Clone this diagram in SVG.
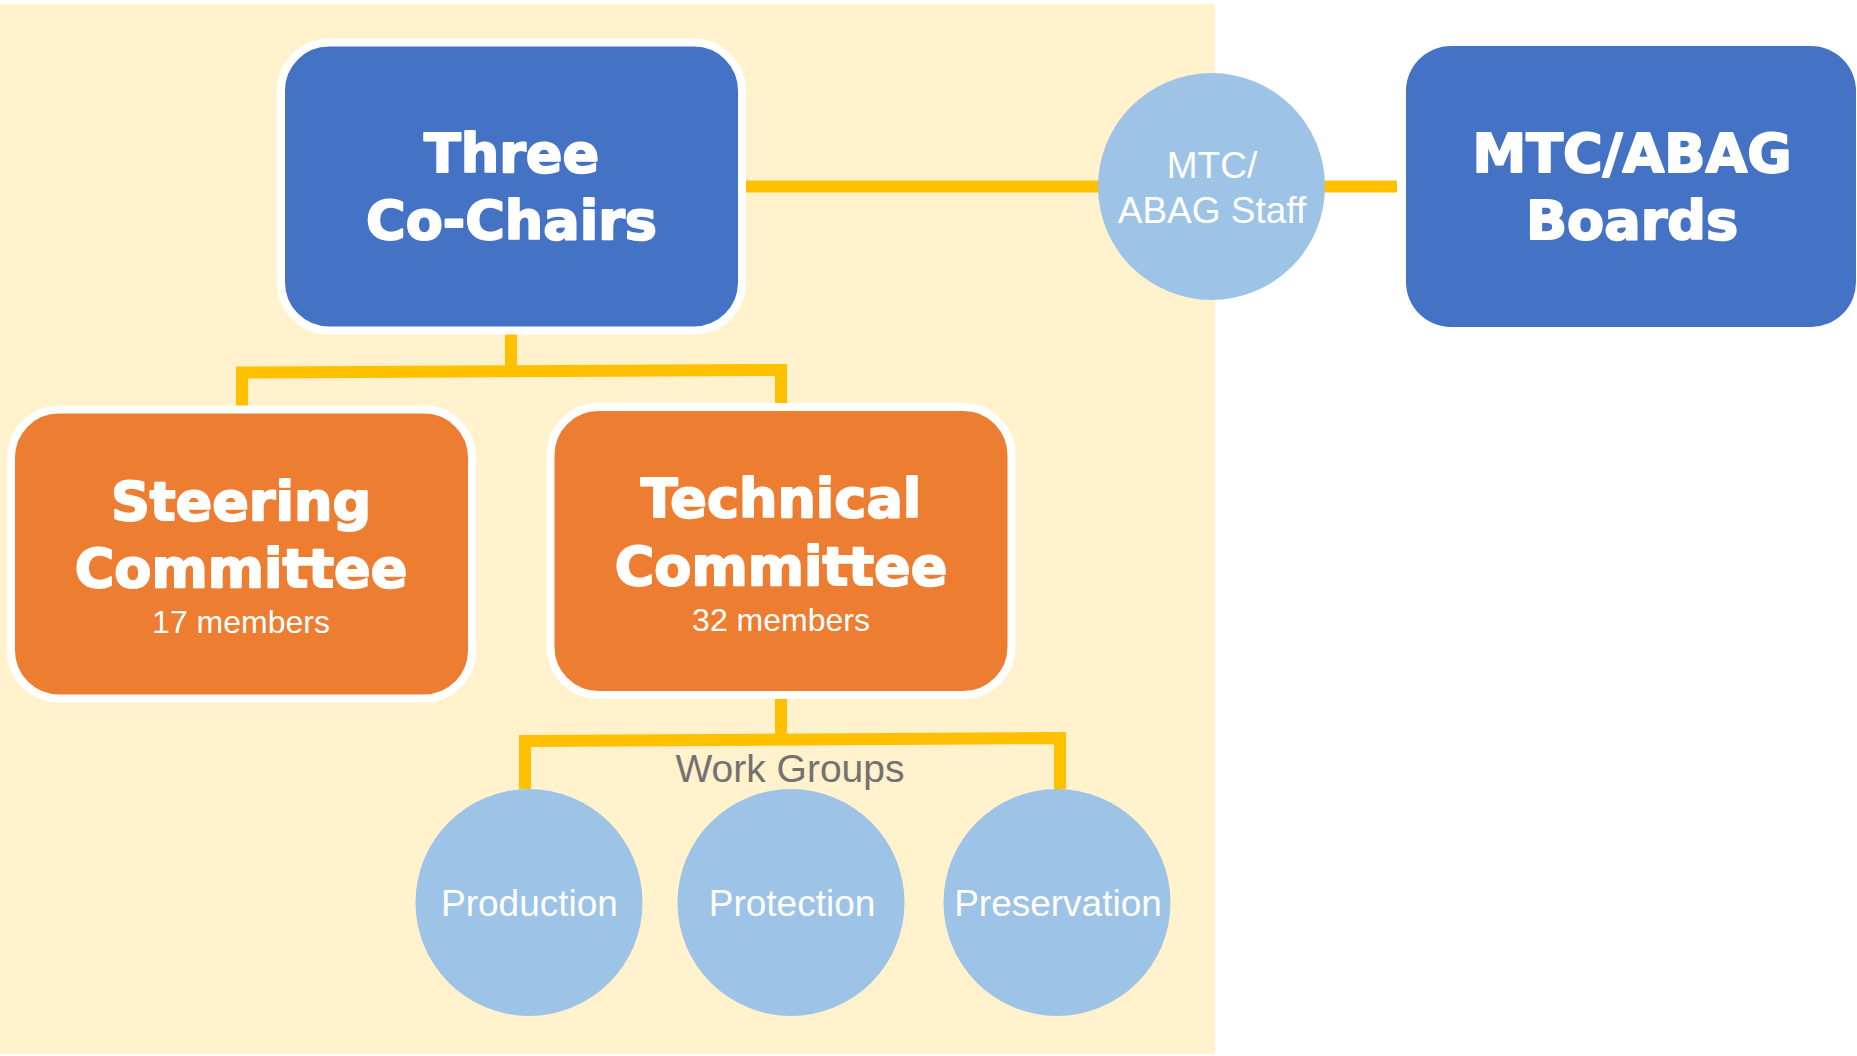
<svg xmlns="http://www.w3.org/2000/svg" width="1857" height="1056" viewBox="0 0 1857 1056">
  <style>
    .bg { fill: #FFF2CC; }
    .box-blue { fill: #4472C4; }
    .box-orange { fill: #ED7D31; stroke: #FFFFFF; stroke-width: 8; }
    .box-blue-b { fill: #4472C4; stroke: #FFFFFF; stroke-width: 8; }
    .circ { fill: #9DC3E6; }
    .conn { fill: none; stroke: #FFC000; stroke-width: 12; stroke-linejoin: miter; stroke-linecap: butt; }
    .head { font-family: "DejaVu Sans", "Liberation Sans", sans-serif; font-weight: bold; font-size: 54px; fill: #FFFFFF; stroke: #FFFFFF; stroke-width: 2; stroke-linejoin: round; text-anchor: middle; }
    .sub { font-family: "Liberation Sans", Arial, sans-serif; font-size: 32px; fill: #FFFFFF; text-anchor: middle; }
    .ctext { font-family: "Liberation Sans", Arial, sans-serif; font-size: 37px; fill: #FFFFFF; text-anchor: middle; }
    .wg { font-family: "Liberation Sans", Arial, sans-serif; font-size: 39px; fill: #767171; text-anchor: middle; }
  </style>
  <rect class="bg" x="0" y="4" width="1215" height="1050"/>

  <g id="connectors">
    <line class="conn" x1="745" y1="186.5" x2="1397" y2="186.5"/>
    <path class="conn" d="M511,331 V372"/>
    <path class="conn" d="M242,409 V372.5 L781,370 V407"/>
    <path class="conn" d="M781,695 V739"/>
    <path class="conn" d="M525,789 V741 L1060,738 V789"/>
  </g>

  <g id="co-chairs">
    <rect class="box-blue-b" x="281" y="42.5" width="461" height="288" rx="48" ry="48"/>
    <text class="head" x="511.5" y="172">Three</text>
    <text class="head" x="511.5" y="239">Co-Chairs</text>
  </g>

  <g id="staff">
    <circle class="circ" cx="1211.5" cy="186.5" r="113.5"/>
    <text class="ctext" x="1212" y="178">MTC/</text>
    <text class="ctext" x="1212" y="223">ABAG Staff</text>
  </g>

  <g id="boards">
    <rect class="box-blue" x="1406" y="46" width="450" height="281" rx="45" ry="45"/>
    <text class="head" x="1632" y="172">MTC/ABAG</text>
    <text class="head" x="1632" y="239">Boards</text>
  </g>

  <g id="steering">
    <rect class="box-orange" x="11" y="409.5" width="461" height="289" rx="48" ry="48"/>
    <text class="head" x="241" y="520">Steering</text>
    <text class="head" x="241" y="587">Committee</text>
    <text class="sub" x="241" y="633">17 members</text>
  </g>

  <g id="technical">
    <rect class="box-orange" x="550.5" y="407" width="461" height="288" rx="48" ry="48"/>
    <text class="head" x="781" y="517">Technical</text>
    <text class="head" x="781" y="585">Committee</text>
    <text class="sub" x="781" y="631">32 members</text>
  </g>

  <g id="work-groups-label">
    <text class="wg" x="790" y="782">Work Groups</text>
  </g>

  <g id="production">
    <circle class="circ" cx="529" cy="902.5" r="113.5"/>
    <text class="ctext" x="529.5" y="916">Production</text>
  </g>

  <g id="protection">
    <circle class="circ" cx="791" cy="902.5" r="113.5"/>
    <text class="ctext" x="792" y="916">Protection</text>
  </g>

  <g id="preservation">
    <circle class="circ" cx="1057" cy="902.5" r="113.5"/>
    <text class="ctext" x="1058" y="916">Preservation</text>
  </g>
</svg>
